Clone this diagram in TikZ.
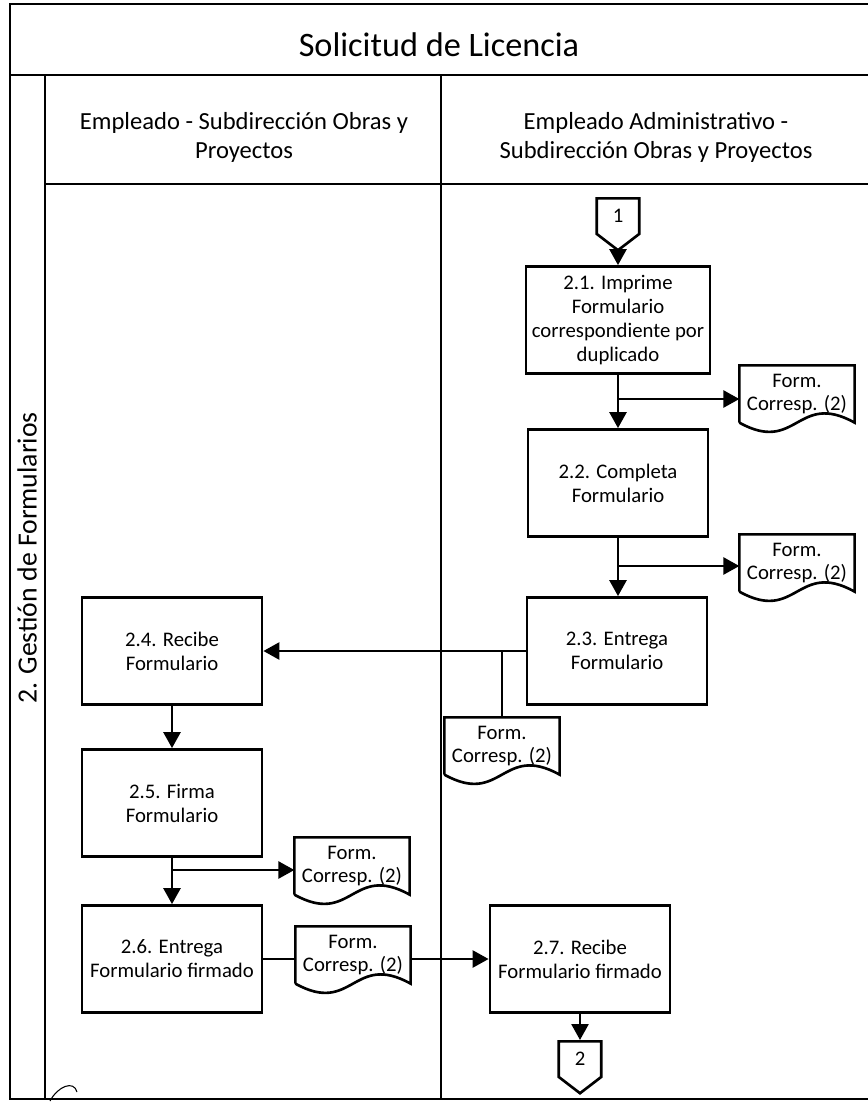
\documentclass[tikz,border=0pt]{standalone}
\usepackage{fontspec}
\setmainfont{Carlito}
\usetikzlibrary{calc}
\usetikzlibrary{arrows.meta}
\usetikzlibrary{shapes.symbols}

% hoja con borde inferior ondulado
\newcommand{\formdoc}[1]{%
\draw [line width=1.5pt] (#1.south west) -- (#1.north west) -- (#1.north east) -- (#1.south east)
.. controls ($(#1.south)+(0,-32)$) and ($(#1.south)+(0,32)$) .. (#1.south west);}

\begin{document}
\begin{tikzpicture}[x=0.02cm,y=-0.02cm,line width=1.3pt,
caja/.style={draw,line width=1.6pt,minimum width=3.6cm,minimum height=2.14cm,align=center,font=\fontsize{11.8}{13.6}\selectfont},
docu/.style={minimum width=2.26cm,minimum height=1.1cm,inner sep=1pt,align=center,font=\fontsize{11.8}{12.8}\selectfont},
conector/.style={draw,line width=1.5pt,signal,signal to=south,signal from=nowhere,signal pointer angle=105,minimum width=0.85cm,minimum height=0.82cm,inner sep=1pt,font=\fontsize{11.8}{13}\selectfont},
flecha/.style={line width=1.5pt,-{Triangle[length=0.32cm,width=0.34cm]}}]
\useasboundingbox (0,0) rectangle (867,1103);

% marco y carriles
\draw (10,4) rectangle (872,1099);
\draw (10,75) -- (872,75);
\draw (45,75) -- (45,1099);
\draw (441,75) -- (441,1099);
\draw (45,184) -- (872,184);

\node [font=\fontsize{19.5}{22}\selectfont] (titulo) at (439,45) {Solicitud de Licencia};
\node [align=center,font=\fontsize{14}{16.5}\selectfont] (carril1) at (244,137) {Empleado - Subdirección Obras y\\Proyectos};
\node [align=center,font=\fontsize{14}{16.5}\selectfont] (carril2) at (656,137) {Empleado Administrativo -\\Subdirección Obras y Proyectos};
\node [rotate=90,font=\fontsize{15.8}{18}\selectfont] (fase) at (27,558) {2. Gestión de Formularios};

% actividades
\node [conector,anchor=north] (c1) at (618,197) {1};
\node [caja] (b21) at (618,320) {2.1. Imprime\\Formulario\\correspondiente por\\duplicado};
\node [caja] (b22) at (618,483) {2.2. Completa\\Formulario};
\node [caja] (b23) at (617,651) {2.3. Entrega\\Formulario};
\node [caja] (b24) at (172,651) {2.4. Recibe\\Formulario};
\node [caja] (b25) at (172,803) {2.5. Firma\\Formulario};
\node [caja] (b26) at (172,959) {2.6. Entrega\\Formulario firmado};
\node [caja] (b27) at (580,959) {2.7. Recibe\\Formulario firmado};
\node [conector,anchor=north] (c2) at (580,1040) {2};

% documentos
\node [docu] (d1) at (797,394) {Form.\\Corresp. (2)};
\node [docu] (d2) at (797,563) {Form.\\Corresp. (2)};
\node [docu] (d3) at (502,746) {Form.\\Corresp. (2)};
\node [docu] (d4) at (352,866) {Form.\\Corresp. (2)};
\node [docu] (d5) at (353,955) {Form.\\Corresp. (2)};
\formdoc{d1}
\formdoc{d2}
\formdoc{d3}
\formdoc{d4}
\formdoc{d5}

\coordinate (j1) at (618,399);
\coordinate (j2) at (618,566);
\coordinate (j3) at (502,651);
\coordinate (j4) at (172,870);

% flujo
\draw [flecha] (c1.south) -- (b21.north);
\draw [flecha] (b21) -- (b22);
\draw [flecha] (j1) -- (j1 -| d1.west);
\draw [flecha] (b22.south) -- (b22.south |- b23.north);
\draw [flecha] (j2) -- (j2 -| d2.west);
\draw [flecha] (b23.west) -- (b24.east);
\draw [line width=1.5pt] (j3) -- (d3.north);
\draw [flecha] (b24) -- (b25);
\draw [flecha] (b25) -- (b26);
\draw [flecha] (j4) -- (j4 -| d4.west);
\draw [line width=1.5pt] (b26.east) -- (b26.east -| d5.west);
\draw [flecha] (d5.east |- b27.west) -- (b27.west);
\draw [flecha] (b27) -- (c2.north);

% rubrica
\draw [line width=0.6pt] (50,1101) .. controls (58,1086) and (74,1080) .. (77,1092);
\end{tikzpicture}
\end{document}
